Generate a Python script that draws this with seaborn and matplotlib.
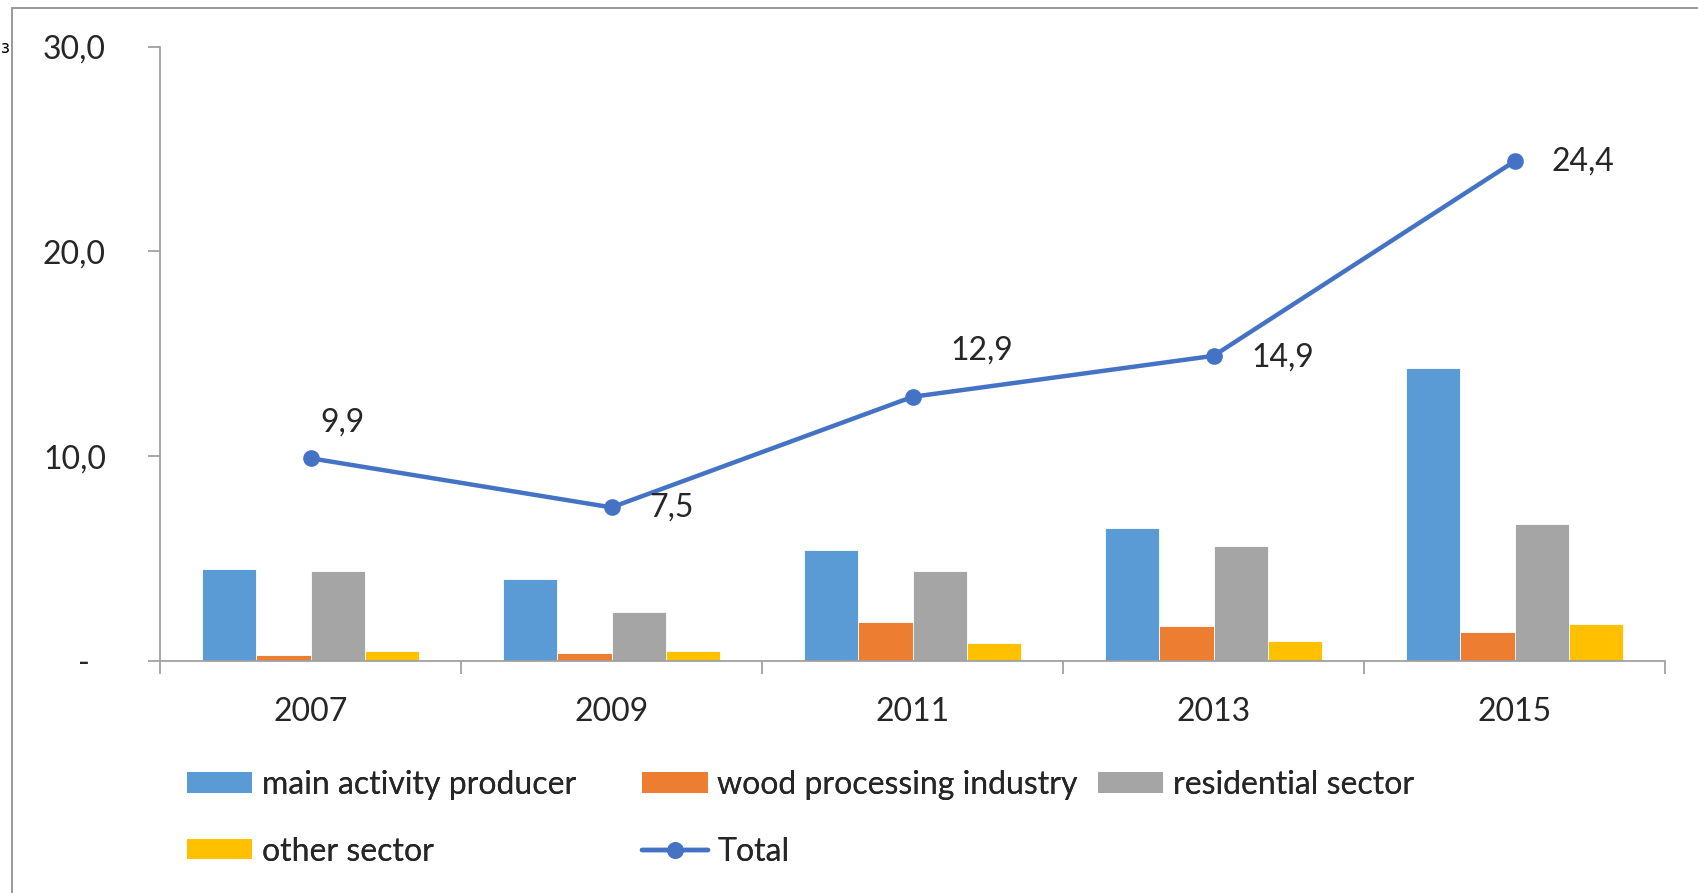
import numpy as np
import pandas as pd
import matplotlib
matplotlib.use("Agg")
import matplotlib.pyplot as plt
from matplotlib.patches import Rectangle, Patch
from matplotlib.lines import Line2D
import seaborn as sns

years = ["2007", "2009", "2011", "2013", "2015"]
main_activity = [4.5, 4.0, 5.4, 6.5, 14.3]
wood_processing = [0.3, 0.4, 1.9, 1.7, 1.4]
residential = [4.4, 2.4, 4.4, 5.6, 6.7]
other_sector = [0.5, 0.5, 0.9, 1.0, 1.8]
total = [9.9, 7.5, 12.9, 14.9, 24.4]
total_labels = ["9,9", "7,5", "12,9", "14,9", "24,4"]
sectors = ["main activity producer", "wood processing industry", "residential sector", "other sector"]
y_ticks = [0, 10, 20, 30]
y_tick_labels = ["-  ", "10,0", "20,0", "30,0"]

colors = ["#5B9BD5", "#ED7D31", "#A5A5A5", "#FFC000"]
line_color = "#4472C4"
text_color = "#262626"

sns.set_theme(style="white")
plt.rcParams["font.family"] = ["Lato", "DejaVu Sans"]
FS = 23

df = pd.DataFrame({
    "year": years * 4,
    "value": main_activity + wood_processing + residential + other_sector,
    "sector": [s for s in sectors for _ in years],
})

fig = plt.figure(figsize=(16.99, 8.93), dpi=100)
ax = fig.add_axes([0.0942, 0.2598, 0.980 - 0.0942, 0.9478 - 0.2598])

sns.barplot(data=df, x="year", y="value", hue="sector", palette=colors,
            saturation=1, width=0.72, gap=0, ax=ax, edgecolor="white",
            linewidth=0.6, errorbar=None, legend=False)

xs = np.arange(len(years))
sns.lineplot(x=xs, y=total, ax=ax, color=line_color, linewidth=3.2,
             marker="o", markersize=12, markeredgewidth=0, legend=False)

offsets = [(23, 26), (43, 0), (50, 33), (50, -1), (49, 0)]
for xi, yv, lab, off in zip(xs, total, total_labels, offsets):
    ax.annotate(lab, (xi, yv), xytext=off, textcoords="offset points",
                ha="center", va="center", fontsize=FS, color=text_color)

ax.set_xlim(-0.5, len(years) - 0.5)
ax.set_ylim(0, 30)
ax.set_yticks(y_ticks)
ax.set_yticklabels(y_tick_labels)
ax.set_xlabel("")
ax.set_ylabel("")

spine_col = "#A0A0A0"
for s in ["top", "right"]:
    ax.spines[s].set_visible(False)
for s in ["left", "bottom"]:
    ax.spines[s].set_color(spine_col)
    ax.spines[s].set_linewidth(1.3)

ax.tick_params(axis="y", which="major", direction="out", length=9, width=1.3,
               color=spine_col, left=True, pad=30, labelsize=FS, labelcolor=text_color)
ax.set_xticks(np.arange(-0.5, len(years)), minor=True)
ax.tick_params(axis="x", which="minor", direction="out", length=9, width=1.3,
               color=spine_col, bottom=True)
ax.tick_params(axis="x", which="major", length=0, pad=26, labelsize=FS,
               labelcolor=text_color)

# legends placed per column
h = {s: Patch(facecolor=c, edgecolor="none") for s, c in zip(sectors, colors)}
h_total = Line2D([0], [0], color=line_color, linewidth=3.2, marker="o",
                 markersize=12, markeredgewidth=0)
cols = [
    ([h[sectors[0]], h[sectors[3]]], [sectors[0], sectors[3]], 0.110),
    ([h[sectors[1]], h_total], [sectors[1], "Total"], 0.378),
    ([h[sectors[2]]], [sectors[2]], 0.646),
]
for handles, labels, x0 in cols:
    leg = fig.legend(handles, labels, loc="upper left", bbox_to_anchor=(x0, 0.138),
                     frameon=False, fontsize=FS, borderpad=0, borderaxespad=0,
                     handlelength=2.05, handleheight=0.6, handletextpad=0.3,
                     labelspacing=1.15, labelcolor=text_color)
    fig.add_artist(leg)

# outer frame
fig.add_artist(Rectangle((12 / 1699, -0.2), 1.2, 1 - 8 / 893 + 0.2,
                         transform=fig.transFigure, fill=False,
                         edgecolor="#9A9A9A", linewidth=1.4))
fig.text(1 / 1699, 1 - 48 / 893, "з", fontsize=12, color="black",
         family=["DejaVu Sans"], va="center", ha="left")

fig.savefig("out.png", dpi=100)
